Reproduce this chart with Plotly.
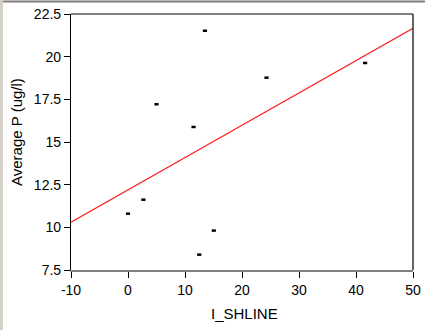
import numpy as np
import plotly.graph_objects as go

# Observations: I_SHLINE vs average phosphorus
i_shline = [13.5, 24.3, 5.0, 11.5, 2.7, 0.0, 15.05, 12.5, 41.6]
avg_p = [21.52, 18.77, 17.21, 15.88, 11.62, 10.80, 9.81, 8.40, 19.63]

x_ticks = [-10, 0, 10, 20, 30, 40, 50]
x_tick_text = ["-10", "0", "10", "20", "30", "40", "50"]
y_ticks = [7.5, 10, 12.5, 15, 17.5, 20, 22.5]
y_tick_text = ["7.5", "10", "12.5", "15", "17.5", "20", "22.5"]

x_range = [-10, 50]
y_range = [7.5, 22.5]

# Least-squares fit line across the full x range
slope, intercept = np.polyfit(i_shline, avg_p, 1)
fit_x = np.array(x_range, dtype=float)
fit_y = intercept + slope * fit_x

W, H = 425, 330
L, R, T, B = 71, 12, 14, 60
pw, ph = W - L - R, H - T - B

def px_x(p):
    return (p - L) / pw

def px_y(p):
    return 1 - (p - T) / ph

fig = go.Figure()
fig.add_trace(go.Scatter(
    x=fit_x, y=fit_y, mode="lines",
    line=dict(color="#ff2020", width=1.2),
    hoverinfo="skip",
))
fig.add_trace(go.Scatter(
    x=i_shline, y=avg_p, mode="markers",
    marker=dict(symbol="line-ew", size=3, color="black",
                line=dict(color="black", width=2.5)),
))

tick_font = dict(family="Liberation Sans, Arial, sans-serif", size=14, color="black")
title_font = dict(family="Liberation Sans, Arial, sans-serif", size=15, color="black")

fig.update_layout(
    width=W, height=H,
    margin=dict(l=L, r=R, t=T, b=B),
    paper_bgcolor="white", plot_bgcolor="white",
    showlegend=False,
    font=tick_font,
    xaxis=dict(
        range=x_range, tickvals=x_ticks, ticktext=x_tick_text,
        ticks="outside", ticklen=6, tickcolor="black", tickwidth=1,
        showline=True, linecolor="#808080", linewidth=1.5,
        showgrid=False, zeroline=False, automargin=False,
        tickfont=tick_font,
    ),
    yaxis=dict(
        range=y_range, tickvals=y_ticks, ticktext=y_tick_text,
        ticks="outside", ticklen=6, tickcolor="black", tickwidth=1,
        showline=True, linecolor="black", linewidth=1.2,
        showgrid=False, zeroline=False, automargin=False,
        tickfont=tick_font,
    ),
    annotations=[
        dict(text="I_SHLINE", xref="paper", yref="paper",
             x=px_x(244), y=px_y(313), xanchor="center", yanchor="middle",
             showarrow=False, font=title_font),
        dict(text="Average P (ug/l)", xref="paper", yref="paper",
             x=px_x(16), y=px_y(132), xanchor="center", yanchor="middle",
             textangle=-90, showarrow=False, font=title_font),
    ],
    shapes=[
        # top and right frame lines of the plot box
        dict(type="line", xref="paper", yref="paper", x0=0, x1=1, y0=1, y1=1,
             line=dict(color="black", width=1.2)),
        dict(type="line", xref="paper", yref="paper", x0=1, x1=1, y0=0, y1=1,
             line=dict(color="black", width=1.2)),
        # window border
        dict(type="rect", xref="paper", yref="paper",
             x0=px_x(0), x1=px_x(W), y0=px_y(3), y1=px_y(0),
             fillcolor="#d4d0c8", line=dict(width=0), layer="above"),
        dict(type="line", xref="paper", yref="paper",
             x0=px_x(0), x1=px_x(W), y0=px_y(1.5), y1=px_y(1.5),
             line=dict(color="#808080", width=1.5)),
        dict(type="rect", xref="paper", yref="paper",
             x0=px_x(0), x1=px_x(3), y0=px_y(H), y1=px_y(0),
             fillcolor="#d4d0c8", line=dict(width=0), layer="above"),
    ],
)

fig.write_html("out.html")
